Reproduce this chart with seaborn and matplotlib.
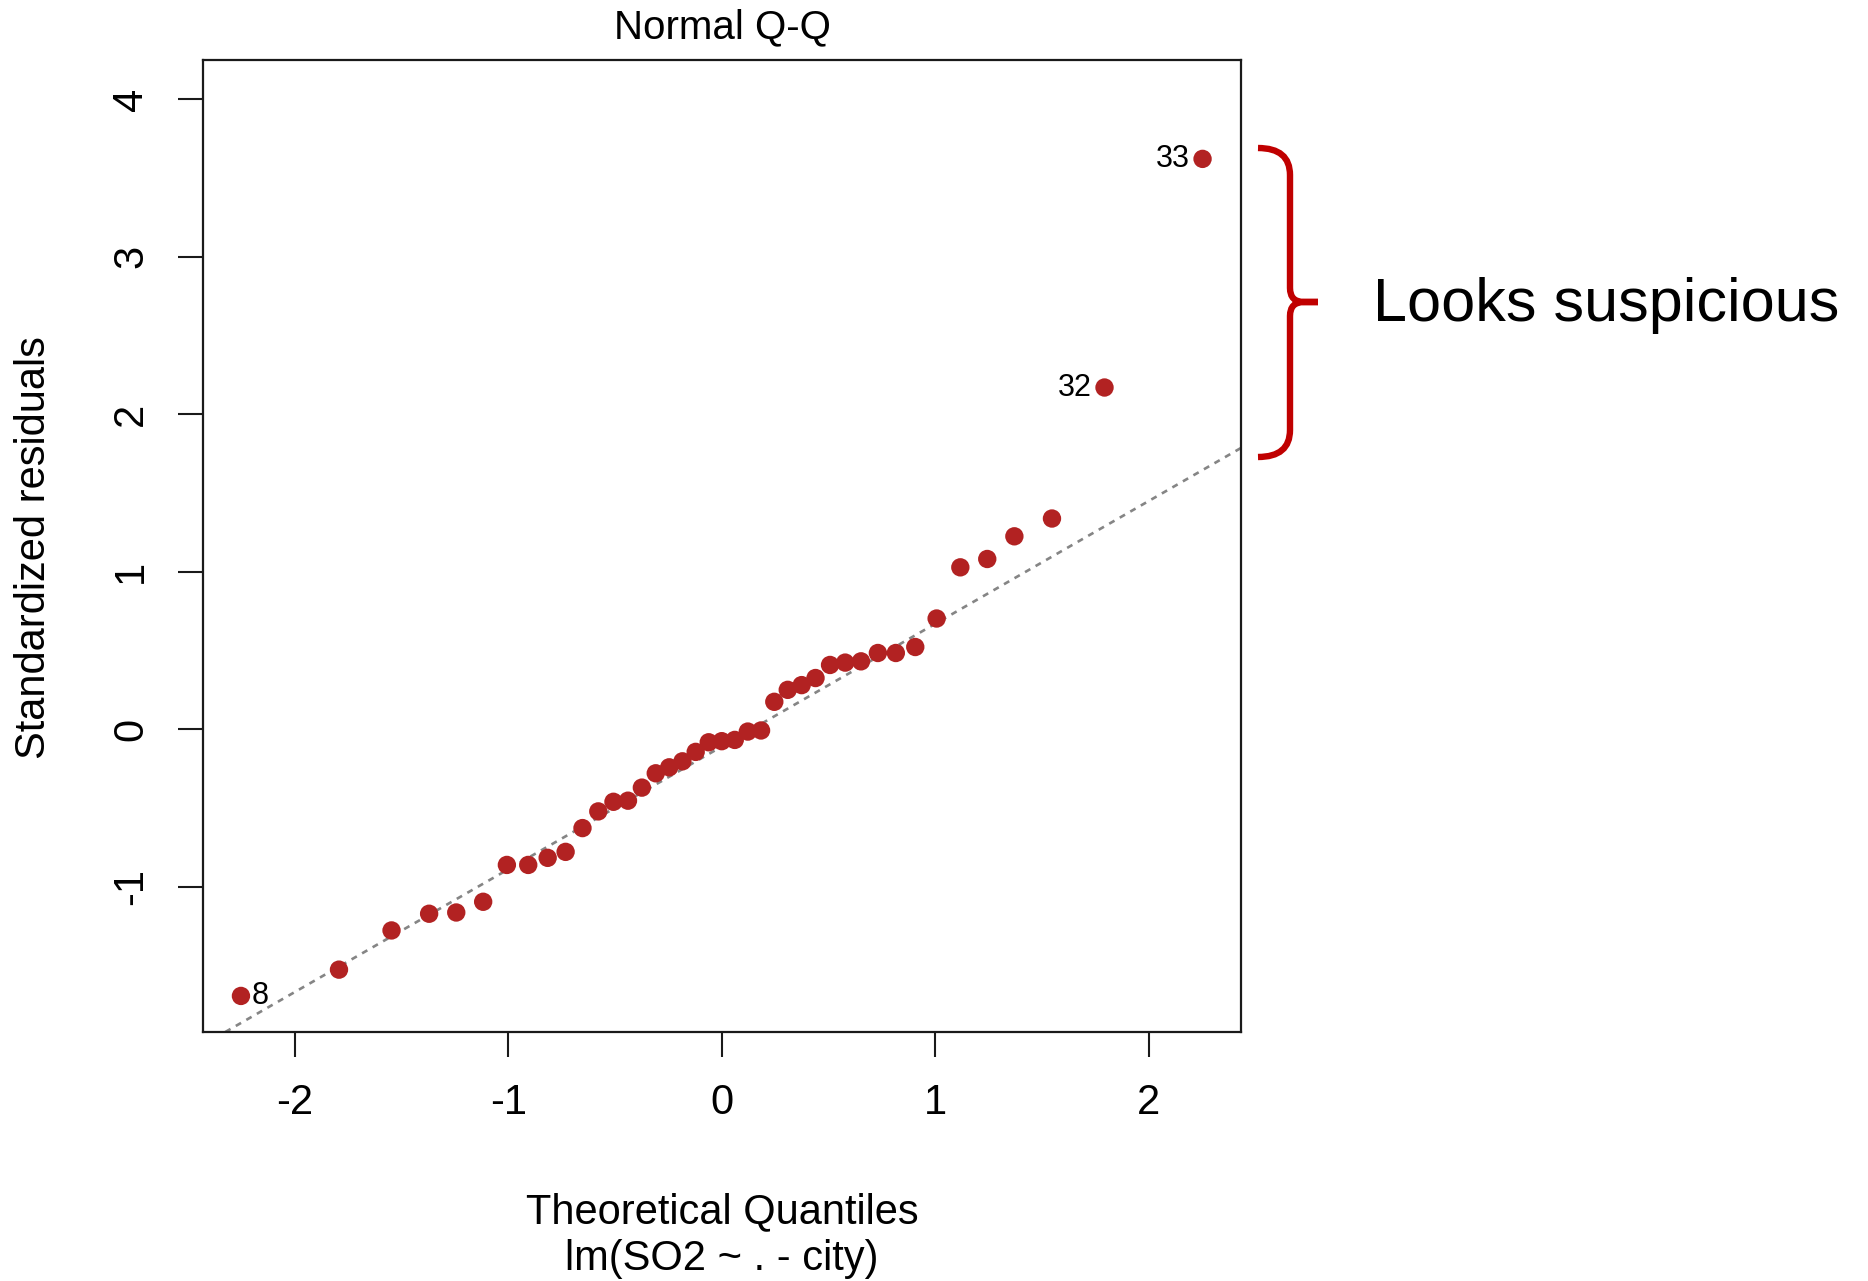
import matplotlib
matplotlib.use("Agg")
import matplotlib.pyplot as plt
from matplotlib.path import Path
from matplotlib.patches import PathPatch
import seaborn as sns
import pandas as pd

# ---- data ----
theoretical_quantiles = [
    -2.251, -1.792, -1.546, -1.370, -1.243, -1.117, -1.006, -0.906, -0.815, -0.731,
    -0.652, -0.578, -0.507, -0.439, -0.374, -0.309, -0.246, -0.184, -0.122, -0.061,
    0.000, 0.061, 0.122, 0.184, 0.246, 0.309, 0.374, 0.439, 0.507, 0.578,
    0.652, 0.731, 0.815, 0.906, 1.006, 1.117, 1.243, 1.370, 1.546, 1.792, 2.251,
]
standardized_residuals = [
    -1.694, -1.527, -1.278, -1.172, -1.164, -1.096, -0.862, -0.862, -0.817, -0.779,
    -0.628, -0.522, -0.461, -0.454, -0.371, -0.280, -0.242, -0.204, -0.144, -0.083,
    -0.076, -0.068, -0.015, -0.008, 0.174, 0.250, 0.280, 0.325, 0.408, 0.423,
    0.431, 0.484, 0.484, 0.522, 0.703, 1.028, 1.081, 1.225, 1.338, 2.170, 3.622,
]
point_ids = {0: "8", 39: "32", 40: "33"}
qq_intercept = -0.11
qq_slope = 0.78
x_ticks = [-2, -1, 0, 1, 2]
y_ticks = [-1, 0, 1, 2, 3, 4]

df = pd.DataFrame({"q": theoretical_quantiles, "r": standardized_residuals})

W, H = 1868, 1281
sns.set_style("ticks")
plt.rcParams["font.family"] = ["Liberation Sans", "DejaVu Sans"]
plt.rcParams["axes.unicode_minus"] = False
plt.rcParams["text.color"] = "black"
plt.rcParams["axes.labelcolor"] = "black"
plt.rcParams["xtick.color"] = "black"
plt.rcParams["ytick.color"] = "black"

fig = plt.figure(figsize=(W / 100, H / 100), dpi=100)
ax = fig.add_axes([202.5 / W, 1 - 1032 / H, (1241 - 202.5) / W, (1032 - 60) / H])

ax.axline((0, qq_intercept), slope=qq_slope, color="#858585", lw=1.9,
          dashes=(2.3, 2.3), zorder=1)
sns.scatterplot(data=df, x="q", y="r", s=175, color="#B22222", edgecolor="none",
                linewidth=0, ax=ax, zorder=3)

for i, lab in point_ids.items():
    xv, yv = theoretical_quantiles[i], standardized_residuals[i]
    if xv < 0:
        ax.annotate(lab, (xv, yv), xytext=(8, 0), textcoords="offset points",
                    ha="left", va="center", fontsize=22, color="black")
    else:
        ax.annotate(lab, (xv, yv), xytext=(-9, 0), textcoords="offset points",
                    ha="right", va="center", fontsize=22, color="black")

ax.set_xlim(-2.431, 2.431)
ax.set_ylim(-1.923, 4.250)
ax.set_xticks(x_ticks)
ax.set_yticks(y_ticks)
ax.set_xticklabels([str(t) for t in x_ticks])
ax.set_yticklabels([str(t) for t in y_ticks])
ax.set_xlabel("")
ax.set_ylabel("")
for sp in ax.spines.values():
    sp.set_visible(True)
    sp.set_linewidth(1.6)
    sp.set_color("#1a1a1a")
ax.tick_params(axis="both", length=18, width=1.5, color="#1a1a1a",
               labelsize=30, pad=19, labelcolor="black")
ax.tick_params(axis="y", labelrotation=90)
for t in ax.get_yticklabels():
    t.set_va("center")

fig.text(722 / W, 1 - 38 / H, "Normal Q-Q", ha="center", va="baseline", fontsize=29, color="black")
fig.text(722 / W, 1 - 1223 / H, "Theoretical Quantiles", ha="center", va="baseline",
         fontsize=30, color="black")
fig.text(722 / W, 1 - 1270 / H, "lm(SO2 ~ . - city)", ha="center", va="baseline",
         fontsize=30, color="black")
fig.text(45 / W, 1 - 548 / H, "Standardized residuals", rotation=90, rotation_mode="anchor",
         ha="center", va="baseline", fontsize=30, color="black")

# bracket
def P(x, y):
    return (x / W, 1 - y / H)

verts = [P(1258, 148), P(1290, 148), P(1290, 175), P(1290, 288), P(1290, 302), P(1304, 302),
         P(1318, 302),
         P(1304, 302), P(1290, 302), P(1290, 316), P(1290, 430), P(1290, 457), P(1258, 457)]
codes = [Path.MOVETO, Path.CURVE3, Path.CURVE3, Path.LINETO, Path.CURVE3, Path.CURVE3,
         Path.LINETO,
         Path.LINETO, Path.CURVE3, Path.CURVE3, Path.LINETO, Path.CURVE3, Path.CURVE3]
fig.add_artist(PathPatch(Path(verts, codes), transform=fig.transFigure, fill=False,
                         edgecolor="#C00000", lw=4.6, capstyle="butt", joinstyle="miter"))
fig.text(1373 / W, 1 - 321 / H, "Looks suspicious", ha="left", va="baseline", fontsize=44,
         color="black")

fig.savefig("out.png", dpi=100, facecolor="white")
